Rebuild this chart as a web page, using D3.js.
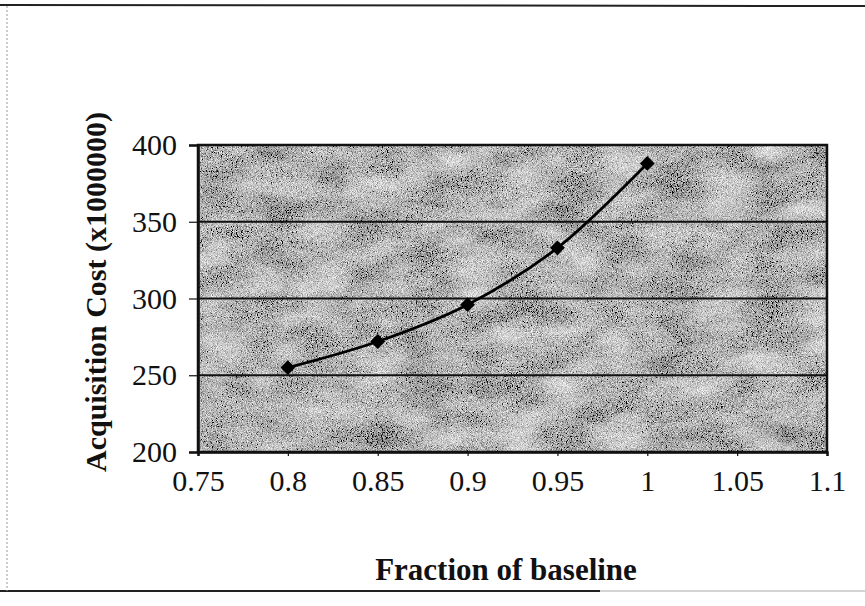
<!DOCTYPE html>
<html>
<head>
<meta charset="utf-8">
<script src="https://cdn.jsdelivr.net/npm/d3@7"></script>
<style>
  body { margin: 0; background: #fff; }
  text { font-family: "Liberation Serif", "Times New Roman", serif; fill: #111; }
</style>
</head>
<body>
<div id="chart"></div>
<script>
// DATA
const fractions = [0.8, 0.85, 0.9, 0.95, 1.0];
const costs = [255, 272, 296, 333, 388];
const xTicks = [0.75, 0.8, 0.85, 0.9, 0.95, 1, 1.05, 1.1];
const yTicks = [200, 250, 300, 350, 400];

const W = 865, H = 606;
const plot = {left: 198, top: 145, right: 827, bottom: 452};

const svg = d3.select("#chart").append("svg")
    .attr("width", W)
    .attr("height", H);

// grainy grey texture for the plot area (scanned look)
const defs = svg.append("defs");
const f = defs.append("filter").attr("id", "grain")
    .attr("x", 0).attr("y", 0).attr("width", 1).attr("height", 1);
f.append("feTurbulence").attr("type", "fractalNoise").attr("baseFrequency", 1.2)
    .attr("numOctaves", 1).attr("seed", 4).attr("result", "fine");
f.append("feTurbulence").attr("type", "fractalNoise").attr("baseFrequency", "0.02 0.04")
    .attr("numOctaves", 2).attr("seed", 9).attr("result", "coarse");
f.append("feComposite").attr("in", "fine").attr("in2", "coarse")
    .attr("operator", "arithmetic")
    .attr("k1", 0).attr("k2", 1.0).attr("k3", 0.35).attr("k4", -0.18).attr("result", "mix");
f.append("feColorMatrix").attr("in", "mix").attr("type", "matrix")
    .attr("values", "1.5 0 0 0 -0.01  1.5 0 0 0 -0.01  1.5 0 0 0 -0.01  0 0 0 0 1");

// outer frame
svg.append("line").attr("x1", 0).attr("x2", W).attr("y1", 5).attr("y2", 6)
    .attr("stroke", "#222").attr("stroke-width", 2);
svg.append("line").attr("x1", 0).attr("x2", 600).attr("y1", 591).attr("y2", 591)
    .attr("stroke", "#222").attr("stroke-width", 2);
svg.append("line").attr("x1", 600).attr("x2", W).attr("y1", 591).attr("y2", 591)
    .attr("stroke", "#aaa").attr("stroke-width", 1);
svg.append("line").attr("x1", 7).attr("x2", 7).attr("y1", 6).attr("y2", 591)
    .attr("stroke", "#999").attr("stroke-width", 1).attr("stroke-dasharray", "2,2");

// scales
const x = d3.scaleLinear().domain([0.75, 1.1]).range([plot.left, plot.right]);
const y = d3.scaleLinear().domain([200, 400]).range([plot.bottom, plot.top]);

// plot background
svg.append("rect")
    .attr("x", plot.left).attr("y", plot.top)
    .attr("width", plot.right - plot.left).attr("height", plot.bottom - plot.top)
    .attr("fill", "#b5b5b5")
    .attr("filter", "url(#grain)");

// gridlines
svg.append("g").selectAll("line")
    .data(yTicks)
    .enter().append("line")
    .attr("x1", plot.left).attr("x2", plot.right)
    .attr("y1", d => y(d)).attr("y2", d => y(d))
    .attr("stroke", "#111").attr("stroke-width", 2);

// plot border
svg.append("rect")
    .attr("x", plot.left).attr("y", plot.top)
    .attr("width", plot.right - plot.left).attr("height", plot.bottom - plot.top)
    .attr("fill", "none").attr("stroke", "#111").attr("stroke-width", 2.5);

// axes
const yAxis = svg.append("g")
    .attr("transform", `translate(${plot.left},0)`)
    .call(d3.axisLeft(y).tickValues(yTicks).tickSize(9).tickPadding(12));
const xAxis = svg.append("g")
    .attr("transform", `translate(0,${plot.bottom})`)
    .call(d3.axisBottom(x).tickValues(xTicks).tickSize(4).tickPadding(14)
        .tickFormat(d => String(+d.toFixed(2))));

[yAxis, xAxis].forEach(g => {
    g.select(".domain").attr("stroke", "#111").attr("stroke-width", 2.5);
    g.selectAll(".tick line").attr("stroke", "#111").attr("stroke-width", 1.2);
    g.selectAll(".tick text")
        .style("font-family", '"Liberation Serif", serif')
        .style("font-size", "30px")
        .attr("fill", "#111");
});

// series
const pts = fractions.map((f, i) => [f, costs[i]]);
const line = d3.line()
    .x(d => x(d[0]))
    .y(d => y(d[1]))
    .curve(d3.curveCatmullRom.alpha(0.5));

svg.append("path")
    .datum(pts)
    .attr("d", line)
    .attr("fill", "none")
    .attr("stroke", "#000")
    .attr("stroke-width", 2.8);

svg.append("g").selectAll("path")
    .data(pts)
    .enter().append("path")
    .attr("d", d3.symbol(d3.symbolSquare, 110))
    .attr("transform", d => `translate(${x(d[0])},${y(d[1])}) rotate(45)`)
    .attr("fill", "#000");

// axis titles
svg.append("text")
    .attr("x", 506)
    .attr("y", 580)
    .attr("text-anchor", "middle")
    .style("font-size", "31px")
    .style("font-weight", "bold")
    .text("Fraction of baseline");

svg.append("text")
    .attr("transform", `translate(106,292) rotate(-90)`)
    .attr("text-anchor", "middle")
    .style("font-size", "30px")
    .style("font-weight", "bold")
    .text("Acquisition Cost (x1000000)");
</script>
</body>
</html>
